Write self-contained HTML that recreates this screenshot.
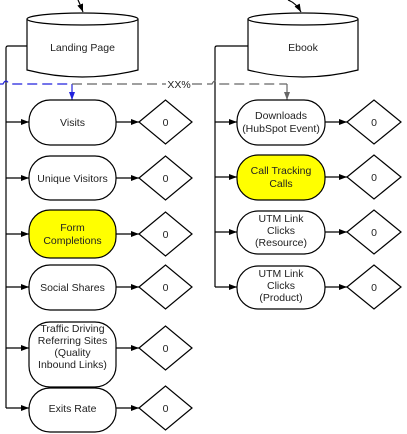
<!DOCTYPE html>
<html><head><meta charset="utf-8"><style>
html,body{margin:0;padding:0;background:#fff;}
svg{display:block;}
text{font-family:"Liberation Sans",sans-serif;font-size:10.5px;fill:#222;text-anchor:middle;}
</style></head><body>
<svg width="407" height="434" viewBox="0 0 407 434" xmlns="http://www.w3.org/2000/svg">
<defs>
<marker id="a" markerWidth="8" markerHeight="6" refX="8" refY="3" orient="auto" markerUnits="userSpaceOnUse"><path d="M0,0 L8,3 L0,6 Z" fill="#000"/></marker>
<marker id="b" markerWidth="6" markerHeight="8" refX="3" refY="8" orient="0" markerUnits="userSpaceOnUse"><path d="M0,0 L6,0 L3,8 Z" fill="#2222dd"/></marker>
<marker id="g" markerWidth="6" markerHeight="8" refX="3" refY="8" orient="0" markerUnits="userSpaceOnUse"><path d="M0,0 L6,0 L3,8 Z" fill="#666"/></marker>
</defs>
<g fill="none" stroke="#000" stroke-width="1.2">
<path d="M78,0 Q80,4 83,12" marker-end="url(#a)"/>
<path d="M288,0 Q296,3 301,12" marker-end="url(#a)"/>
<path d="M27,19 L27,70 Q82,84 138,70 L138,19" fill="#fff"/>
<ellipse cx="82.5" cy="19" rx="55.5" ry="6" fill="#fff"/>
<path d="M248,19 L248,70 Q303,84 358,70 L358,19" fill="#fff"/>
<ellipse cx="303" cy="19" rx="55" ry="6" fill="#fff"/>
<path d="M27,46 L8,46 Q6,46 6,48 L6,408"/>
<path d="M248,46 L217,46 Q215,46 215,48 L215,287"/>
</g>
<path d="M0,84 L3,84 Q6,78 9,84 L72,84" stroke="#2222dd" stroke-width="1.2" fill="none" stroke-dasharray="10,5"/>
<path d="M72,84 L72,100" stroke="#2222dd" stroke-width="1.2" fill="none" marker-end="url(#b)"/>
<path d="M72,84 L166,84 M192,84 L212,84 Q215,78 218,84 L287,84" stroke="#666" stroke-width="1.2" fill="none" stroke-dasharray="10,5"/>
<path d="M287,84 L287,100" stroke="#666" stroke-width="1.2" fill="none" marker-end="url(#g)"/>
<text x="179" y="88">XX%</text>
<text x="82.5" y="51">Landing Page</text>
<text x="303" y="51">Ebook</text>
<g stroke="#000" stroke-width="1.2" fill="none">
<path d="M6,122 H29" marker-end="url(#a)"/><path d="M116,122 H139" marker-end="url(#a)"/>
<path d="M6,178 H29" marker-end="url(#a)"/><path d="M116,178 H139" marker-end="url(#a)"/>
<path d="M6,234 H29" marker-end="url(#a)"/><path d="M116,234 H139" marker-end="url(#a)"/>
<path d="M6,287 H29" marker-end="url(#a)"/><path d="M116,287 H139" marker-end="url(#a)"/>
<path d="M6,348 H29" marker-end="url(#a)"/><path d="M116,348 H139" marker-end="url(#a)"/>
<path d="M6,408 H29" marker-end="url(#a)"/><path d="M116,408 H139" marker-end="url(#a)"/>
<path d="M215,122 H237" marker-end="url(#a)"/><path d="M325,122 H347" marker-end="url(#a)"/>
<path d="M215,177 H237" marker-end="url(#a)"/><path d="M325,177 H347" marker-end="url(#a)"/>
<path d="M215,232 H237" marker-end="url(#a)"/><path d="M325,232 H347" marker-end="url(#a)"/>
<path d="M215,287 H237" marker-end="url(#a)"/><path d="M325,287 H347" marker-end="url(#a)"/>
<rect x="29" y="100" width="87" height="45" rx="21" fill="#fff"/>
<rect x="29" y="156" width="87" height="44" rx="21" fill="#fff"/>
<rect x="29" y="210" width="87" height="48" rx="21" fill="#ffff00"/>
<rect x="29" y="265" width="87" height="45" rx="21" fill="#fff"/>
<rect x="29" y="322" width="87" height="65" rx="21" fill="#fff"/>
<rect x="29" y="388" width="87" height="44" rx="21" fill="#fff"/>
<rect x="237" y="100" width="88" height="45" rx="21" fill="#fff"/>
<rect x="237" y="155" width="88" height="45" rx="21" fill="#ffff00"/>
<rect x="237" y="211" width="88" height="43" rx="21" fill="#fff"/>
<rect x="237" y="266" width="88" height="43" rx="21" fill="#fff"/>
<path d="M139,122 L165.5,100 L192,122 L165.5,144 Z" fill="#fff"/>
<path d="M139,178 L165.5,156 L192,178 L165.5,200 Z" fill="#fff"/>
<path d="M139,234 L165.5,212 L192,234 L165.5,256 Z" fill="#fff"/>
<path d="M139,287 L165.5,265 L192,287 L165.5,309 Z" fill="#fff"/>
<path d="M139,348 L165.5,326 L192,348 L165.5,370 Z" fill="#fff"/>
<path d="M139,408 L165.5,386 L192,408 L165.5,430 Z" fill="#fff"/>
<path d="M347,122 L374,100 L401,122 L374,144 Z" fill="#fff"/>
<path d="M347,177 L374,155 L401,177 L374,199 Z" fill="#fff"/>
<path d="M347,232 L374,210 L401,232 L374,254 Z" fill="#fff"/>
<path d="M347,287 L374,265 L401,287 L374,309 Z" fill="#fff"/>
</g>
<g>
<text x="72.5" y="126">Visits</text>
<text x="72.5" y="182">Unique Visitors</text>
<text x="72.5" y="231">Form</text><text x="72.5" y="244">Completions</text>
<text x="72.5" y="332">Traffic Driving</text><text x="72.5" y="344">Referring Sites</text><text x="72.5" y="356">(Quality</text><text x="72.5" y="368">Inbound Links)</text>
<text x="72.5" y="291">Social Shares</text>
<text x="72.5" y="412">Exits Rate</text>
<text x="281" y="119">Downloads</text><text x="281" y="132">(HubSpot Event)</text>
<text x="281" y="174">Call Tracking</text><text x="281" y="187">Calls</text>
<text x="281" y="222">UTM Link</text><text x="281" y="234">Clicks</text><text x="281" y="246">(Resource)</text>
<text x="281" y="277">UTM Link</text><text x="281" y="289">Clicks</text><text x="281" y="301">(Product)</text>
<text x="165.5" y="126">0</text><text x="165.5" y="182">0</text><text x="165.5" y="238">0</text>
<text x="165.5" y="291">0</text><text x="165.5" y="352">0</text><text x="165.5" y="412">0</text>
<text x="374" y="126">0</text><text x="374" y="181">0</text><text x="374" y="236">0</text><text x="374" y="291">0</text>
</g>
</svg>
</body></html>
